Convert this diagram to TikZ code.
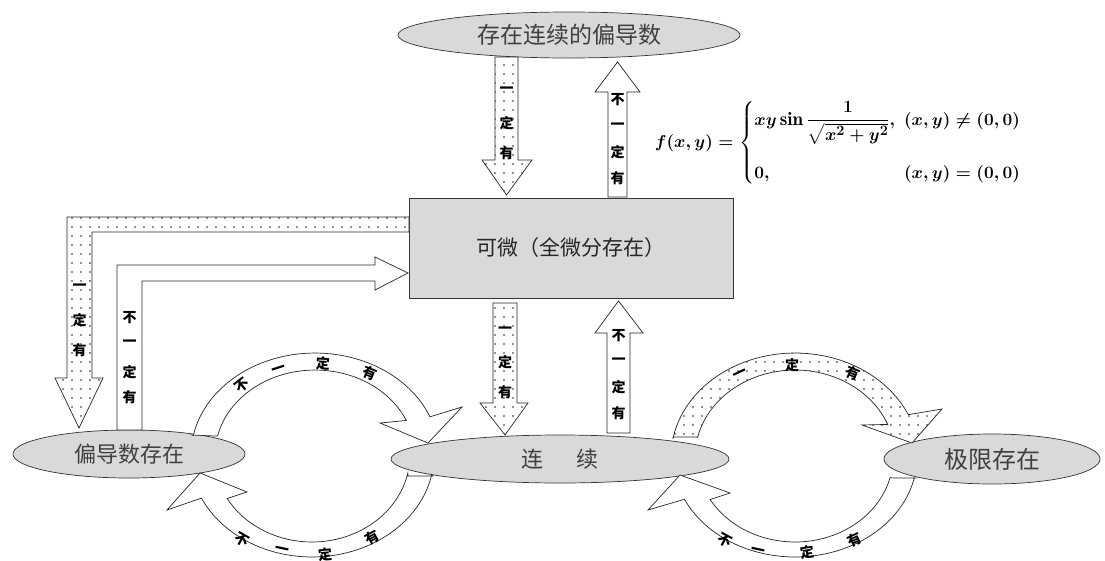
\documentclass[tikz,border=0pt]{standalone}
\usepackage{fontspec}
\usepackage{amsmath}
\newfontfamily\cjk{Noto Sans CJK SC}
\usetikzlibrary{shapes.geometric,patterns.meta}
\newsavebox\formulabox
\begin{document}
\sbox\formulabox{\fontsize{19}{23}\selectfont\boldmath$f(x,y)=\left\{\begin{array}{@{}l@{\hspace{9pt}}l@{}} xy\sin\dfrac{1}{\sqrt{x^2+y^2}}, & (x,y)\neq(0,0)\\[30pt] 0, & (x,y)=(0,0)\end{array}\right.$}
\begin{tikzpicture}[x=1pt,y=-1pt,
  ell/.style={ellipse, draw=black!80, fill=gray!30, line width=0.7pt, inner sep=0pt, text=black!75},
  boxnode/.style={rectangle, draw=black!80, fill=gray!30, line width=0.7pt, inner sep=0pt, text=black!85},
  blk/.style={draw=black!85, line width=0.7pt, fill=white, line join=miter},
  dotblk/.style={draw=black!85, line width=0.7pt, line join=miter, preaction={fill=white},
     pattern={Dots[distance=9pt,radius=0.8pt]}, pattern color=black!85},
  lab/.style={font=\cjk\bfseries\fontsize{14}{14}\selectfont, inner sep=0pt, text=black}
]
\useasboundingbox (0,0) rectangle (1105,560);
\fill[white] (0,0) rectangle (1105,560);

% ellipses and box
\node[ell, minimum width=342pt, minimum height=46pt, font=\cjk\fontsize{23}{23}\selectfont] (top) at (569,35) {存在连续的偏导数};
\node[boxnode, minimum width=324pt, minimum height=100pt, font=\cjk\fontsize{21}{21}\selectfont] (kw) at (571,248) {可微（全微分存在）};
\node[ell, minimum width=232pt, minimum height=48pt, font=\cjk\fontsize{22}{22}\selectfont] (pd) at (129,454) {偏导数存在};
\node[ell, minimum width=338pt, minimum height=48pt, font=\cjk\fontsize{22}{22}\selectfont] (lx) at (560,459) {连\hspace{33pt}续};
\node[ell, minimum width=216pt, minimum height=50pt, font=\cjk\fontsize{24}{24}\selectfont] (jx) at (992,459) {极限存在};

% vertical block arrows
\draw[dotblk] (495,57) -- (518,57) -- (518,160) -- (532,160) -- (506.5,195) -- (482,160) -- (495,160) -- cycle;
\draw[blk] (608,197) -- (608,92) -- (595,92) -- (617.5,62) -- (640,92) -- (627,92) -- (627,197) -- cycle;
\draw[dotblk] (493,303) -- (517,303) -- (517,403) -- (528,403) -- (505,435) -- (480,403) -- (493,403) -- cycle;
\draw[blk] (607,433) -- (607,333) -- (595,333) -- (618.5,301) -- (643,333) -- (630,333) -- (630,433) -- cycle;

% L-shaped arrows
\draw[dotblk] (409,217) -- (67,217) -- (67,378) -- (55,378) -- (79,428) -- (103,378) -- (92,378) -- (92,232) -- (409,232) -- cycle;
\draw[blk] (117,430) -- (117,265) -- (375,265) -- (375,257) -- (408,273) -- (375,290) -- (375,281) -- (142,281) -- (142,430) -- cycle;

% curved arrows, left ring
\draw[blk] (192,435) -- plot[domain=169:22, samples=40] ({315+124*cos(\x)},{455-102*sin(\x)})
  -- (462,407) -- (428,443) -- (380,423)
  -- plot[domain=24:167, samples=40] ({315+100*cos(\x)},{455-85*sin(\x)}) -- (215,436) -- cycle;
\draw[blk] (433,476) -- plot[domain=-11:-155, samples=40] ({312+122*cos(\x)},{455-102*sin(\x)})
  -- (167,510) -- (200,473) -- (247,492)
  -- plot[domain=-150:-12, samples=40] ({312+98*cos(\x)},{455-87*sin(\x)}) -- (408,476) -- cycle;
% curved arrows, right ring
\draw[dotblk] (673,437) -- plot[domain=170:24, samples=40] ({795+124*cos(\x)},{457-104*sin(\x)})
  -- (942,409) -- (912,443) -- (862,425)
  -- plot[domain=22:167, samples=40] ({795+100*cos(\x)},{457-87*sin(\x)}) -- (697,437) -- cycle;
\draw[blk] (915,478) -- plot[domain=-12:-155, samples=40] ({795+122*cos(\x)},{457-100*sin(\x)})
  -- (648,510) -- (680,475) -- (730,493)
  -- plot[domain=-150:-14, samples=40] ({795+98*cos(\x)},{457-85*sin(\x)}) -- (893,478) -- cycle;

% labels on straight arrows
\node[lab] (a1) at (506.5,90) {一};
\node[lab] (a2) at (506.5,123) {定};
\node[lab] (a3) at (506.5,153) {有};
\node[lab] (b1) at (617.5,100) {不};
\node[lab] (b2) at (617.5,126) {一};
\node[lab] (b3) at (617.5,152) {定};
\node[lab] (b4) at (617.5,178) {有};
\node[lab] (c1) at (505,330) {一};
\node[lab] (c2) at (505,362) {定};
\node[lab] (c3) at (505,392) {有};
\node[lab] (d1) at (618.5,336) {不};
\node[lab] (d2) at (618.5,361) {一};
\node[lab] (d3) at (618.5,387) {定};
\node[lab] (d4) at (618.5,413) {有};
\node[lab] (e1) at (79.5,287) {一};
\node[lab] (e2) at (79.5,320) {定};
\node[lab] (e3) at (79.5,350) {有};
\node[lab] (g1) at (129.5,318) {不};
\node[lab] (g2) at (129.5,343) {一};
\node[lab] (g3) at (129.5,372) {定};
\node[lab] (g4) at (129.5,397) {有};

% labels on curved arrows
\node[lab, rotate=38] (h1) at (242,385) {不};
\node[lab, rotate=18] (h2) at (279,370) {一};
\node[lab, rotate=-3] (h3) at (323,363) {定};
\node[lab, rotate=-22] (h4) at (370,373) {有};
\node[lab, rotate=-30] (i1) at (242,540) {不};
\node[lab, rotate=-12] (i2) at (282,551) {一};
\node[lab, rotate=5] (i3) at (325,554) {定};
\node[lab, rotate=28] (i4) at (372,538) {有};
\node[lab, rotate=25] (j1) at (740,375) {一};
\node[lab, rotate=0] (j2) at (792,365) {定};
\node[lab, rotate=-22] (j3) at (853,373) {有};
\node[lab, rotate=-28] (k1) at (725,540) {不};
\node[lab, rotate=-12] (k2) at (758,552) {一};
\node[lab, rotate=8] (k3) at (807,552) {定};
\node[lab, rotate=25] (k4) at (855,540) {有};

% formula
\node[inner sep=0pt] (fm) at (838,143) {\usebox\formulabox};
\end{tikzpicture}
\end{document}
